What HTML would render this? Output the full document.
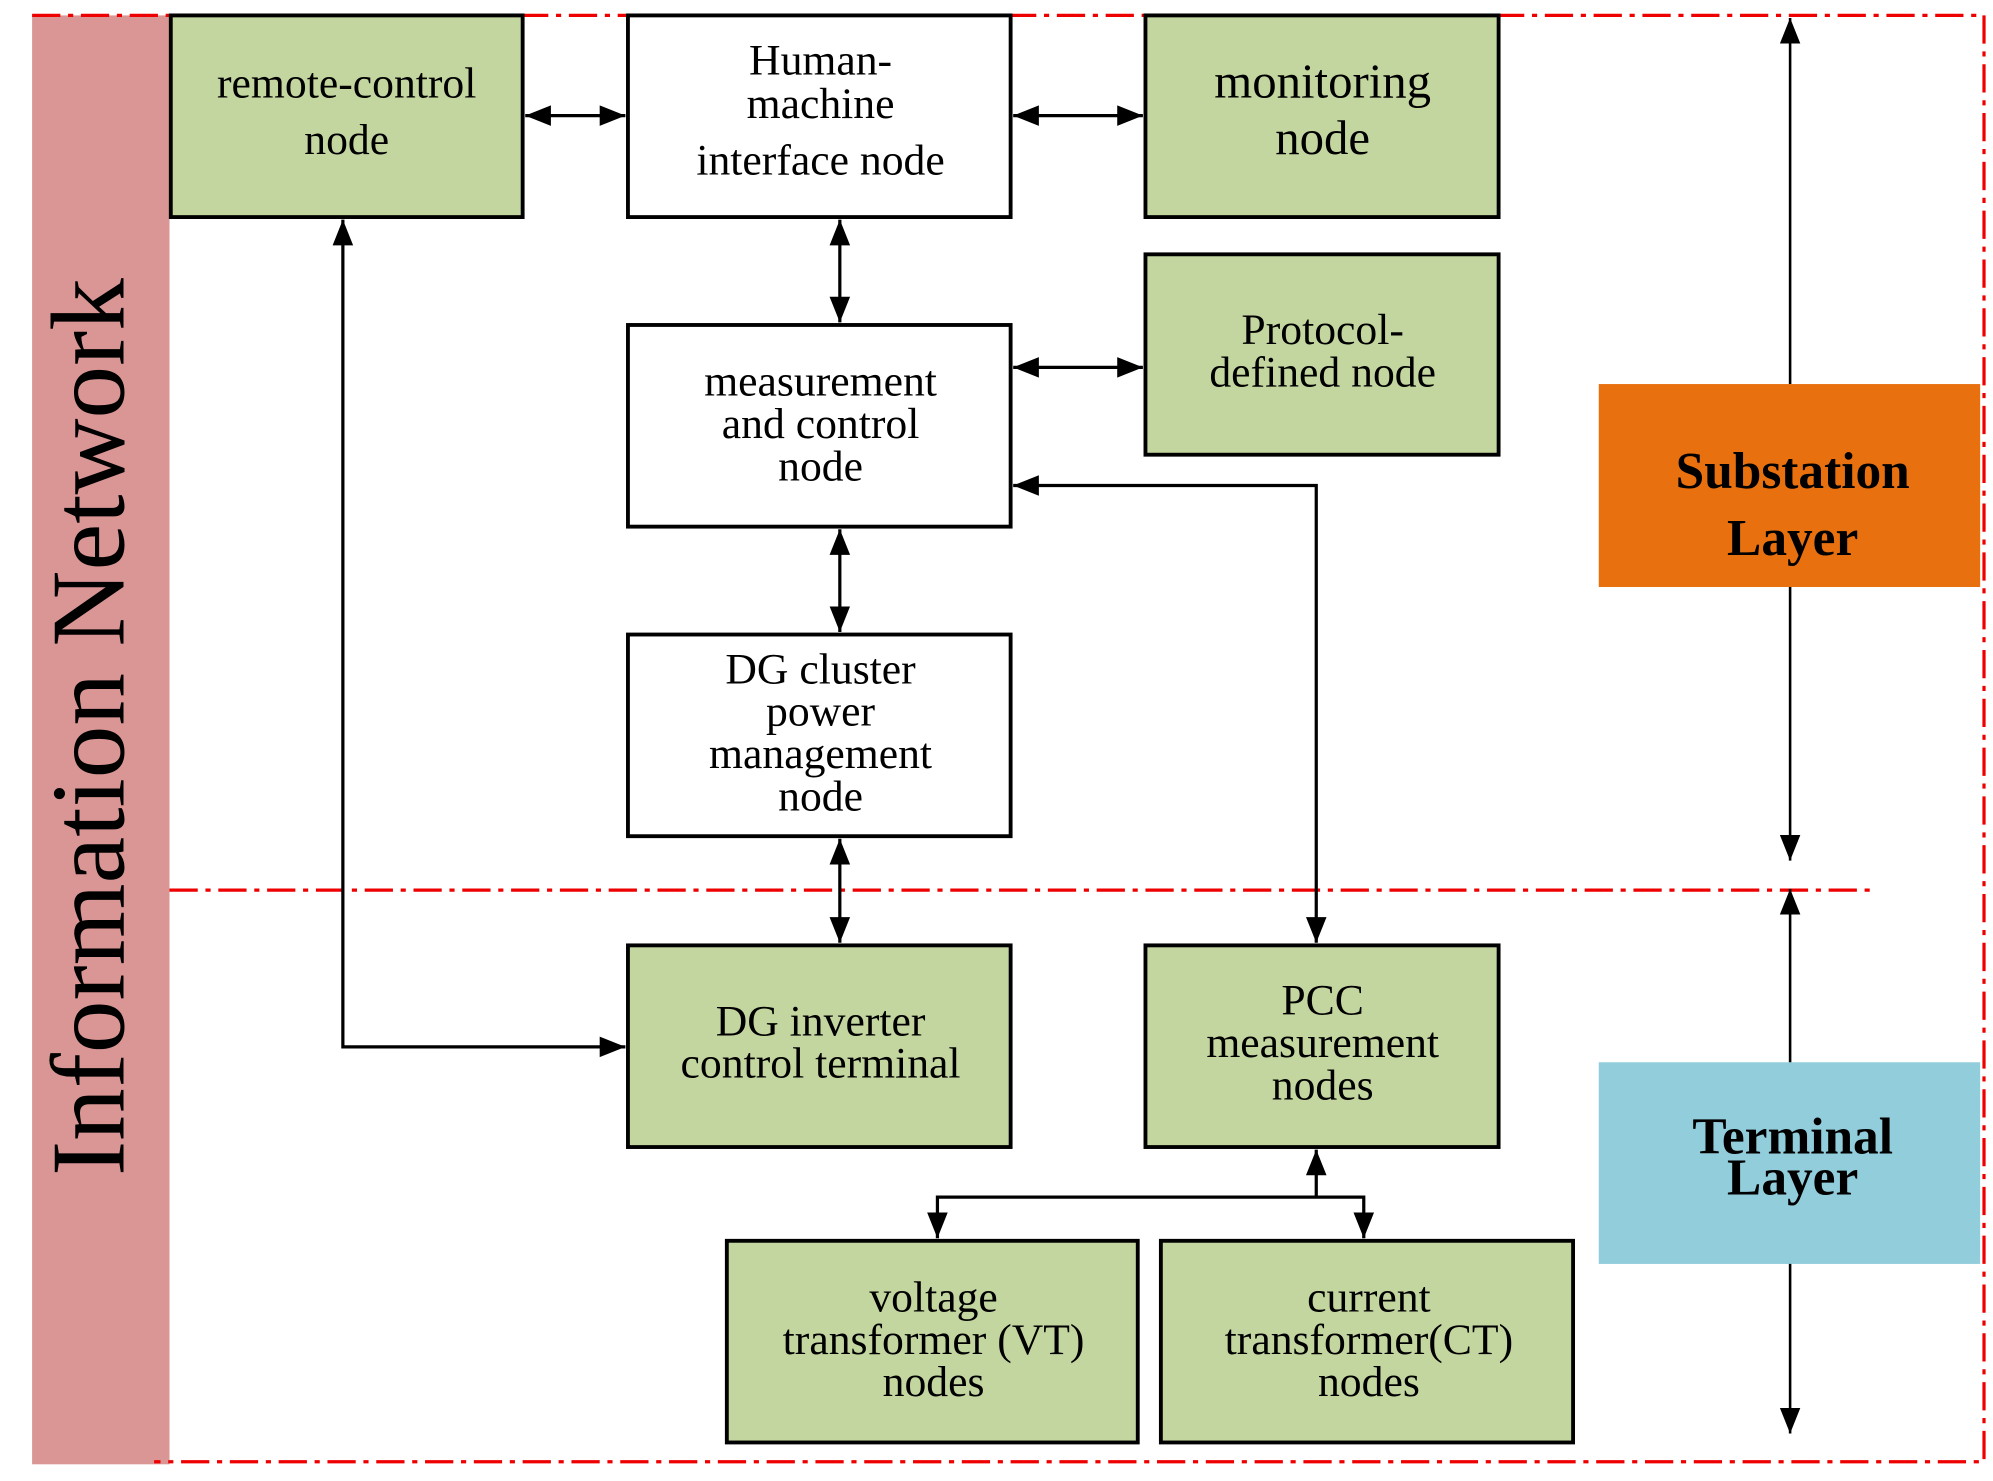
<!DOCTYPE html>
<html><head><meta charset="utf-8"><style>
html,body{margin:0;padding:0;background:#fff;}
svg{display:block;}
text{font-family:"Liberation Serif",serif;fill:#000;}
</style></head><body>
<svg width="1993" height="1481" viewBox="0 0 1552 1153" preserveAspectRatio="none" xmlns="http://www.w3.org/2000/svg">
<defs>
<marker id="b" viewBox="0 0 10 10" refX="10" refY="5" markerWidth="20" markerHeight="20" orient="auto-start-reverse" markerUnits="userSpaceOnUse">
<path d="M0,1 L10,5 L0,9 z" fill="#000"/></marker>
</defs>
<rect x="25" y="12" width="107" height="1128" fill="#d99694"/>
<text transform="translate(96,566) rotate(-90)" text-anchor="middle" font-size="82">Information Network</text>
<g stroke="#e00" stroke-width="2.5" stroke-dasharray="22,6,4,6" fill="none">
<path d="M25,12 H1545 V1138 H120"/>
<path d="M132,693 H1460"/>
</g>
<rect x="1245" y="299" width="297" height="158" fill="#e8700f"/>
<rect x="1245" y="827" width="297" height="157" fill="#92cddc"/>
<g font-weight="bold" font-size="40" text-anchor="middle">
<text x="1396" y="380">Substation</text><text x="1396" y="432">Layer</text>
<text x="1396" y="898">Terminal</text><text x="1396" y="930">Layer</text>
</g>
<g stroke="#000" stroke-width="2" fill="none">
<path d="M1394,299 V14" marker-end="url(#b)"/>
<path d="M1394,457 V670" marker-end="url(#b)"/>
<path d="M1394,827 V692" marker-end="url(#b)"/>
<path d="M1394,984 V1116" marker-end="url(#b)"/>
</g>
<g stroke="#000" stroke-width="3">
<rect x="133" y="12" width="274" height="157" fill="#c4d6a0"/>
<rect x="489" y="12" width="298" height="157" fill="#fff"/>
<rect x="892" y="12" width="275" height="157" fill="#c4d6a0"/>
<rect x="489" y="253" width="298" height="157" fill="#fff"/>
<rect x="892" y="198" width="275" height="156" fill="#c4d6a0"/>
<rect x="489" y="494" width="298" height="157" fill="#fff"/>
<rect x="489" y="736" width="298" height="157" fill="#c4d6a0"/>
<rect x="892" y="736" width="275" height="157" fill="#c4d6a0"/>
<rect x="566" y="966" width="320" height="157" fill="#c4d6a0"/>
<rect x="904" y="966" width="321" height="157" fill="#c4d6a0"/>
</g>
<g stroke="#000" stroke-width="2.5" fill="none">
<path d="M409,90 H487" marker-start="url(#b)" marker-end="url(#b)"/>
<path d="M789,90 H890" marker-start="url(#b)" marker-end="url(#b)"/>
<path d="M654,171 V251" marker-start="url(#b)" marker-end="url(#b)"/>
<path d="M789,286 H890" marker-start="url(#b)" marker-end="url(#b)"/>
<path d="M654,412 V492" marker-start="url(#b)" marker-end="url(#b)"/>
<path d="M654,653 V734" marker-start="url(#b)" marker-end="url(#b)"/>
<path d="M789,378 H1025 V734" marker-start="url(#b)" marker-end="url(#b)"/>
<path d="M267,171 V815 H487" marker-start="url(#b)" marker-end="url(#b)"/>
<path d="M1025,932 V895" marker-end="url(#b)"/>
<path d="M730,964 V932 H1062 V964" marker-start="url(#b)" marker-end="url(#b)"/>
</g>
<g font-size="34" text-anchor="middle">
<text x="270" y="76">remote-control</text><text x="270" y="120">node</text>
<text x="639" y="58">Human-</text><text x="639" y="92">machine</text><text x="639" y="136">interface node</text>
<text x="1030" y="76" font-size="38">monitoring</text><text x="1030" y="120" font-size="38">node</text>
<text x="639" y="308">measurement</text><text x="639" y="341">and control</text><text x="639" y="374">node</text>
<text x="1030" y="268">Protocol-</text><text x="1030" y="301">defined node</text>
<text x="639" y="532">DG cluster</text><text x="639" y="565">power</text><text x="639" y="598">management</text><text x="639" y="631">node</text>
<text x="639" y="806">DG inverter</text><text x="639" y="839">control terminal</text>
<text x="1030" y="790">PCC</text><text x="1030" y="823">measurement</text><text x="1030" y="856">nodes</text>
<text x="727" y="1021">voltage</text><text x="727" y="1054">transformer (VT)</text><text x="727" y="1087">nodes</text>
<text x="1066" y="1021">current</text><text x="1066" y="1054">transformer(CT)</text><text x="1066" y="1087">nodes</text>
</g>
</svg>
</body></html>
